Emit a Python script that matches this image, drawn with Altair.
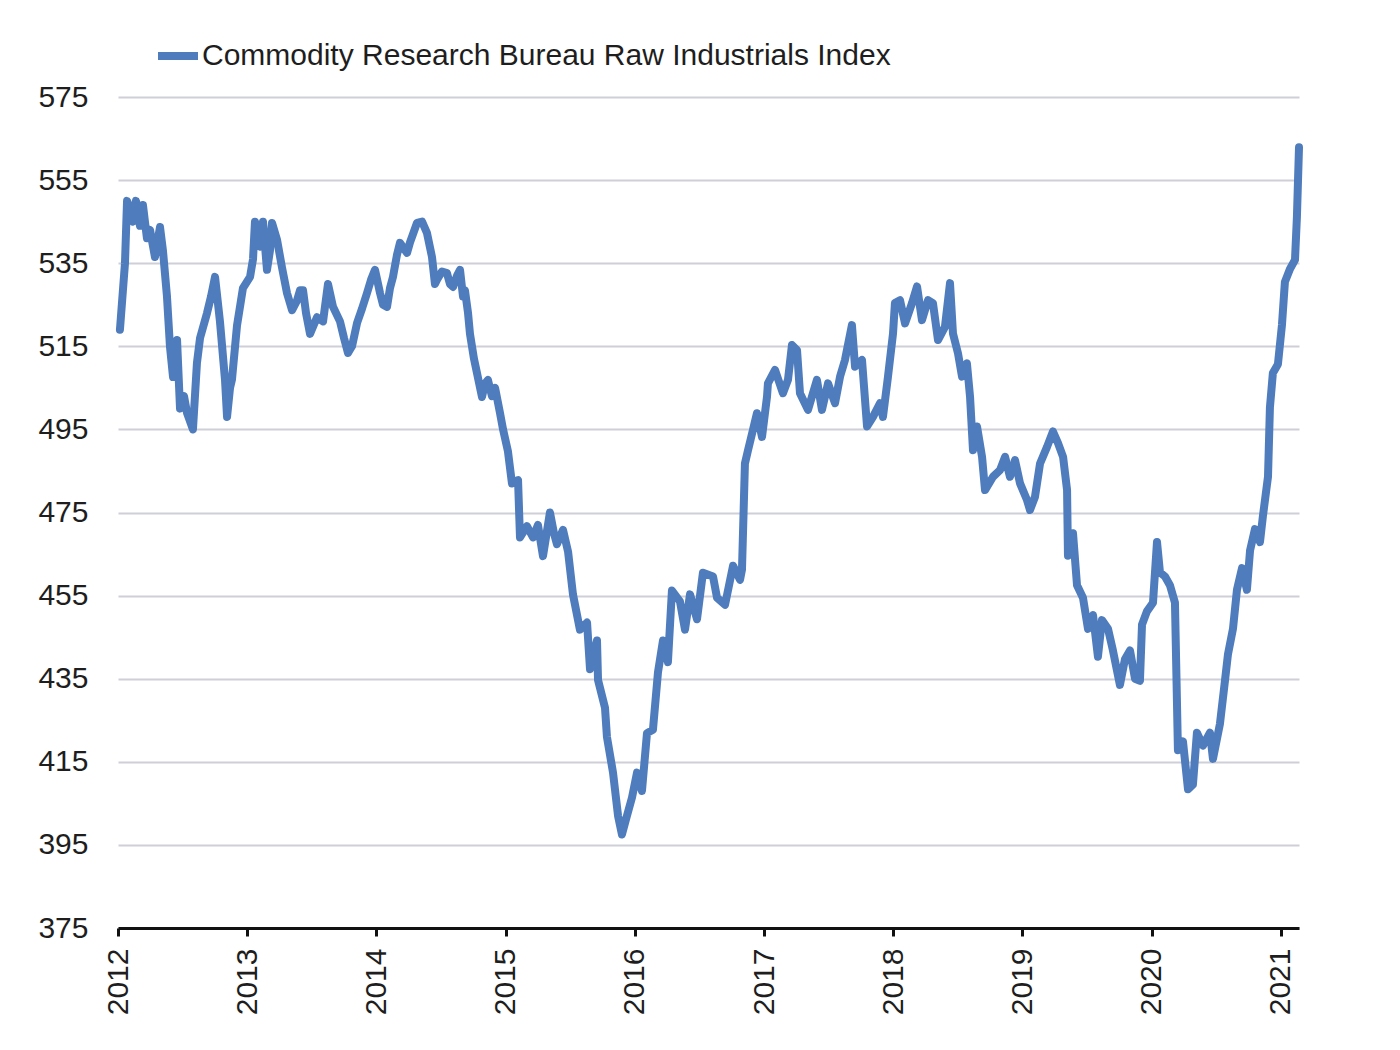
import altair as alt
import pandas as pd

series_name = "Commodity Research Bureau Raw Industrials Index"

years = [
    2012.015, 2012.054, 2012.070, 2012.093, 2012.116, 2012.139, 2012.170, 2012.193, 2012.224, 2012.248,
    2012.286, 2012.325, 2012.348, 2012.379, 2012.402, 2012.426, 2012.457, 2012.480, 2012.511, 2012.534,
    2012.557, 2012.580, 2012.611, 2012.635, 2012.689, 2012.720, 2012.751, 2012.789, 2012.828, 2012.844,
    2012.867, 2012.882, 2012.921, 2012.967, 2013.022, 2013.045, 2013.060, 2013.083, 2013.099, 2013.122,
    2013.153, 2013.176, 2013.192, 2013.231, 2013.269, 2013.308, 2013.347, 2013.385, 2013.409, 2013.432,
    2013.455, 2013.486, 2013.540, 2013.587, 2013.625, 2013.664, 2013.718, 2013.749, 2013.780, 2013.811,
    2013.850, 2013.888, 2013.927, 2013.958, 2013.989, 2014.028, 2014.051, 2014.082, 2014.105, 2014.128,
    2014.159, 2014.182, 2014.237, 2014.260, 2014.283, 2014.314, 2014.353, 2014.391, 2014.430, 2014.453,
    2014.469, 2014.507, 2014.546, 2014.569, 2014.593, 2014.624, 2014.647, 2014.670, 2014.685, 2014.709,
    2014.724, 2014.755, 2014.778, 2014.817, 2014.840, 2014.863, 2014.894, 2014.918, 2014.956, 2014.980,
    2015.018, 2015.049, 2015.096, 2015.111, 2015.165, 2015.212, 2015.250, 2015.289, 2015.343, 2015.374,
    2015.397, 2015.444, 2015.483, 2015.521, 2015.575, 2015.630, 2015.653, 2015.707, 2015.715, 2015.769,
    2015.784, 2015.831, 2015.870, 2015.900, 2015.939, 2015.978, 2016.017, 2016.055, 2016.094, 2016.140,
    2016.179, 2016.218, 2016.256, 2016.287, 2016.349, 2016.388, 2016.427, 2016.481, 2016.527, 2016.605,
    2016.636, 2016.698, 2016.760, 2016.814, 2016.829, 2016.852, 2016.876, 2016.914, 2016.945, 2016.984,
    2017.023, 2017.030, 2017.085, 2017.146, 2017.185, 2017.216, 2017.255, 2017.278, 2017.340, 2017.409,
    2017.448, 2017.495, 2017.549, 2017.588, 2017.626, 2017.680, 2017.704, 2017.758, 2017.797, 2017.843,
    2017.897, 2017.920, 2017.959, 2017.998, 2018.013, 2018.052, 2018.091, 2018.145, 2018.184, 2018.222,
    2018.269, 2018.307, 2018.346, 2018.400, 2018.439, 2018.462, 2018.501, 2018.532, 2018.570, 2018.594,
    2018.617, 2018.648, 2018.687, 2018.710, 2018.772, 2018.826, 2018.865, 2018.903, 2018.942, 2018.981,
    2019.035, 2019.058, 2019.097, 2019.136, 2019.190, 2019.236, 2019.275, 2019.314, 2019.345, 2019.352,
    2019.391, 2019.422, 2019.468, 2019.507, 2019.546, 2019.584, 2019.615, 2019.662, 2019.700, 2019.754,
    2019.793, 2019.832, 2019.871, 2019.909, 2019.925, 2019.963, 2020.010, 2020.041, 2020.064, 2020.103,
    2020.141, 2020.180, 2020.203, 2020.242, 2020.281, 2020.319, 2020.350, 2020.397, 2020.451, 2020.474,
    2020.528, 2020.567, 2020.590, 2020.629, 2020.660, 2020.699, 2020.737, 2020.761, 2020.799, 2020.838,
    2020.861, 2020.900, 2020.915, 2020.938, 2020.977, 2021.008, 2021.031, 2021.070, 2021.109, 2021.124,
    2021.140,
]

values = [
    519.0, 535.0, 550.0, 548.0, 545.0, 550.0, 544.0, 549.0, 541.0, 543.0,
    536.5, 543.7, 538.0, 527.0, 515.0, 507.6, 516.5, 500.0, 503.0, 499.0,
    497.0, 495.0, 511.0, 517.0, 523.0, 527.0, 531.7, 521.0, 507.0, 498.0,
    505.0, 507.0, 520.0, 529.0, 531.7, 536.0, 545.0, 540.0, 539.0, 545.0,
    533.4, 538.0, 544.7, 540.6, 534.0, 527.8, 523.7, 526.0, 528.5, 528.5,
    523.0, 518.0, 522.0, 521.0, 530.0, 524.5, 521.0, 517.0, 513.4, 515.0,
    520.6, 524.0, 527.8, 531.0, 533.4, 527.8, 525.0, 524.5, 529.0, 531.7,
    537.0, 539.9, 537.5, 540.0, 542.0, 544.7, 545.0, 542.3, 536.5, 530.0,
    531.0, 533.0, 532.6, 530.0, 529.3, 532.0, 533.4, 527.0, 528.5, 523.0,
    518.0, 512.0, 508.6, 502.8, 506.0, 506.9, 503.0, 505.0, 499.0, 495.0,
    489.7, 482.0, 482.8, 469.0, 471.7, 469.0, 472.0, 464.5, 475.0, 470.0,
    467.4, 470.8, 465.6, 455.3, 446.8, 448.5, 437.3, 444.2, 434.7, 428.0,
    421.0, 412.4, 402.0, 397.5, 402.0, 406.4, 412.4, 408.0, 421.9, 422.7,
    436.5, 444.2, 439.0, 456.2, 453.6, 446.8, 455.3, 449.3, 460.5, 459.6,
    454.5, 452.8, 462.2, 458.8, 461.2, 486.8, 490.0, 494.9, 498.9, 493.2,
    502.9, 506.1, 509.3, 503.7, 506.9, 515.3, 514.1, 503.7, 499.7, 506.9,
    499.7, 506.1, 501.3, 507.7, 511.7, 520.1, 510.1, 511.7, 495.7, 498.0,
    501.3, 498.0, 507.7, 518.1, 525.4, 526.1, 520.5, 525.4, 529.4, 521.3,
    526.1, 525.4, 516.5, 519.7, 530.2, 518.1, 513.3, 507.7, 510.9, 502.9,
    490.0, 495.7, 488.4, 480.4, 483.6, 485.2, 488.4, 483.6, 487.6, 482.0,
    478.0, 475.6, 478.8, 486.8, 490.8, 494.5, 491.7, 488.4, 480.4, 464.6,
    470.0, 457.5, 454.5, 447.0, 450.3, 440.3, 449.1, 447.0, 441.8, 433.5,
    439.7, 441.8, 435.0, 434.5, 448.0, 451.2, 453.3, 467.9, 460.6, 459.6,
    457.5, 453.3, 417.8, 419.9, 408.4, 409.5, 422.0, 418.9, 422.0, 415.7,
    424.1, 434.5, 440.8, 447.0, 456.4, 461.6, 456.4, 465.8, 471.0, 467.9,
    474.2, 483.6, 500.3, 508.6, 510.7, 520.1, 530.5, 533.6, 535.8, 546.2,
    562.9,
]

tick_years = [2012, 2013, 2014, 2015, 2016, 2017, 2018, 2019, 2020, 2021]
y_ticks = [375, 395, 415, 435, 455, 475, 495, 515, 535, 555, 575]

df = pd.DataFrame({"year": years, "value": values, "series": series_name})

font = "Liberation Sans"
line_color = "#4f7cbc"

chart = (
    alt.Chart(df)
    .mark_line(strokeWidth=8, strokeJoin="round", strokeCap="round")
    .encode(
        x=alt.X(
            "year:Q",
            scale=alt.Scale(domain=[2012, 2021.14], nice=False, zero=False),
            axis=alt.Axis(
                values=tick_years, format="d", labelAngle=270, title=None, grid=False,
                domainColor="#111111", domainWidth=3, tickColor="#111111", tickWidth=3,
                tickSize=8, labelPadding=12, labelFontSize=30, labelColor="#1e1e1e",
                labelFont=font, labelFontWeight="normal",
            ),
        ),
        y=alt.Y(
            "value:Q",
            scale=alt.Scale(domain=[375, 575], nice=False, zero=False),
            axis=alt.Axis(
                values=y_ticks, title=None, grid=True, gridColor="#cfcfd8", gridWidth=2,
                domain=False, ticks=False, labelPadding=30, labelFontSize=30,
                labelColor="#1e1e1e", labelFont=font, minExtent=105,
            ),
        ),
        color=alt.Color(
            "series:N",
            scale=alt.Scale(range=[line_color]),
            legend=alt.Legend(
                title=None, orient="none", legendX=36, legendY=-65,
                symbolType="stroke", symbolSize=1600, symbolStrokeWidth=8,
                labelFontSize=30, labelFont=font, labelColor="#1e1e1e",
                labelLimit=0, labelOffset=0, padding=0,
            ),
        ),
    )
    .properties(
        width=1181, height=831,
        padding={"left": 5, "top": 24, "right": 5, "bottom": 5},
    )
    .configure(background="white", view=alt.ViewConfig(strokeWidth=0, stroke="transparent"))
)

chart.save("out.html", embed_options={"renderer": "svg", "actions": False})
